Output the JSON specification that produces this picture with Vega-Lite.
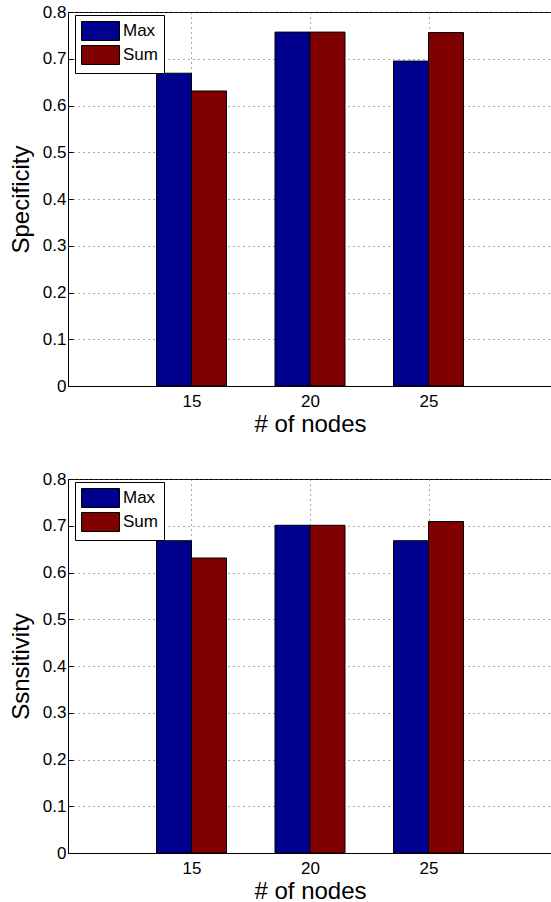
{
  "$schema": "https://vega.github.io/schema/vega-lite/v6.json",
  "autosize": {"type": "pad"},
  "padding": {"left": 8, "top": 2, "right": 0, "bottom": 0},
  "background": "white",
  "data": {
    "values": [
      {"metric": "Specificity", "nodes": 15, "method": "Max", "value": 0.669},
      {"metric": "Specificity", "nodes": 15, "method": "Sum", "value": 0.631},
      {"metric": "Specificity", "nodes": 20, "method": "Max", "value": 0.757},
      {"metric": "Specificity", "nodes": 20, "method": "Sum", "value": 0.757},
      {"metric": "Specificity", "nodes": 25, "method": "Max", "value": 0.695},
      {"metric": "Specificity", "nodes": 25, "method": "Sum", "value": 0.756},
      {"metric": "Ssnsitivity", "nodes": 15, "method": "Max", "value": 0.668},
      {"metric": "Ssnsitivity", "nodes": 15, "method": "Sum", "value": 0.631},
      {"metric": "Ssnsitivity", "nodes": 20, "method": "Max", "value": 0.701},
      {"metric": "Ssnsitivity", "nodes": 20, "method": "Sum", "value": 0.701},
      {"metric": "Ssnsitivity", "nodes": 25, "method": "Max", "value": 0.668},
      {"metric": "Ssnsitivity", "nodes": 25, "method": "Sum", "value": 0.709}
    ]
  },
  "config": {
    "font": "Liberation Sans",
    "view": {"stroke": "black", "strokeWidth": 1},
    "axis": {
      "domainColor": "black",
      "tickColor": "black",
      "labelColor": "black",
      "titleColor": "black",
      "labelFont": "Liberation Sans",
      "titleFont": "Liberation Sans",
      "labelFontSize": 17,
      "titleFontSize": 24,
      "titleFontWeight": "normal",
      "grid": true,
      "gridColor": "#555",
      "gridDash": [1, 4],
      "gridWidth": 1,
      "tickSize": -5,
      "labelPadding": 12
    },
    "legend": {
      "labelFont": "Liberation Sans",
      "labelFontSize": 17,
      "labelColor": "black"
    }
  },
  "vconcat": [
    {
      "width": 484,
      "height": 374,
      "transform": [{"filter": "datum.metric === 'Specificity'"}],
      "encoding": {
        "x": {"field": "nodes", "type": "quantitative", "scale": {"domain": [10, 30], "nice": false, "zero": false},
              "axis": {"values": [15, 20, 25], "title": "# of nodes", "titlePadding": 3, "labelPadding": 12}},
        "y": {"field": "value", "type": "quantitative", "scale": {"domain": [0, 0.8], "nice": false},
              "axis": {"values": [0, 0.1, 0.2, 0.3, 0.4, 0.5, 0.6, 0.7, 0.8], "format": ".1~f", "title": "Specificity", "titlePadding": 9, "labelPadding": 7}},
        "color": {"field": "method", "type": "nominal",
                  "scale": {"domain": ["Max", "Sum"], "range": ["#00008F", "#800000"]},
                  "legend": {"title": null, "orient": "none", "legendX": 7, "legendY": 3,
                             "symbolType": "M-1,-1H3V1H-1Z", "symbolSize": 361,
                             "symbolStrokeColor": "black", "symbolStrokeWidth": 1, "symbolOpacity": 1,
                             "labelOffset": 22, "padding": 6, "rowPadding": 0,
                             "strokeColor": "black", "fillColor": "white"}}
      },
      "layer": [
        {"transform": [{"filter": "datum.method === 'Max'"}],
         "mark": {"type": "bar", "width": 35, "xOffset": -17.5, "stroke": "black", "strokeWidth": 1}},
        {"transform": [{"filter": "datum.method === 'Sum'"}],
         "mark": {"type": "bar", "width": 35, "xOffset": 17.5, "stroke": "black", "strokeWidth": 1}}
      ]
    },
    {
      "width": 484,
      "height": 374,
      "transform": [{"filter": "datum.metric === 'Ssnsitivity'"}],
      "encoding": {
        "x": {"field": "nodes", "type": "quantitative", "scale": {"domain": [10, 30], "nice": false, "zero": false},
              "axis": {"values": [15, 20, 25], "title": "# of nodes", "titlePadding": 3, "labelPadding": 12}},
        "y": {"field": "value", "type": "quantitative", "scale": {"domain": [0, 0.8], "nice": false},
              "axis": {"values": [0, 0.1, 0.2, 0.3, 0.4, 0.5, 0.6, 0.7, 0.8], "format": ".1~f", "title": "Ssnsitivity", "titlePadding": 9, "labelPadding": 7}},
        "color": {"field": "method", "type": "nominal",
                  "scale": {"domain": ["Max", "Sum"], "range": ["#00008F", "#800000"]},
                  "legend": {"title": null, "orient": "none", "legendX": 7, "legendY": 3,
                             "symbolType": "M-1,-1H3V1H-1Z", "symbolSize": 361,
                             "symbolStrokeColor": "black", "symbolStrokeWidth": 1, "symbolOpacity": 1,
                             "labelOffset": 22, "padding": 6, "rowPadding": 0,
                             "strokeColor": "black", "fillColor": "white"}}
      },
      "layer": [
        {"transform": [{"filter": "datum.method === 'Max'"}],
         "mark": {"type": "bar", "width": 35, "xOffset": -17.5, "stroke": "black", "strokeWidth": 1}},
        {"transform": [{"filter": "datum.method === 'Sum'"}],
         "mark": {"type": "bar", "width": 35, "xOffset": 17.5, "stroke": "black", "strokeWidth": 1}}
      ]
    }
  ],
  "spacing": 93,
  "bounds": "flush",
  "resolve": {"legend": {"color": "independent"}}
}
